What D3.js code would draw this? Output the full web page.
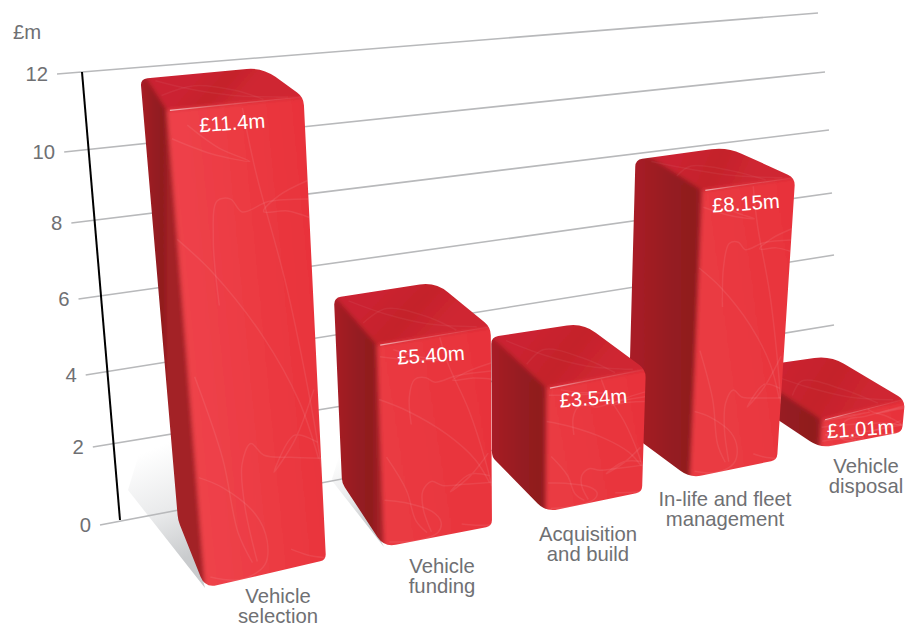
<!DOCTYPE html>
<html>
<head>
<meta charset="utf-8">
<style>
  html, body { margin: 0; background: #fff; }
  svg { display: block; }
  text { font-family: "Liberation Sans", Arial, sans-serif; font-size: 20.3px; }
</style>
<script src="https://cdn.jsdelivr.net/npm/d3@7"></script>
</head>
<body>
<svg id="chart" width="918" height="628"></svg>
<script>
// Vehicle lifecycle spend, £m
const categories = [
  ["Vehicle", "selection"],
  ["Vehicle", "funding"],
  ["Acquisition", "and build"],
  ["In-life and fleet", "management"],
  ["Vehicle", "disposal"]
];
const values = [11.4, 5.40, 3.54, 8.15, 1.01];
const gridValues = [0, 2, 4, 6, 8, 10, 12];
const unitLabel = "£m";

// Perspective set-up: floor corners of every block, pixel rise per £m at each
// corner, and the point far below the page that all uprights converge on.
const vanish = [517, 4500];
const floorCorners = [
  { bl: [178, 520], br: [287, 495], fr: [326, 560], fl: [205, 588] },
  { bl: [342, 483], br: [439, 463], fr: [492, 526], fl: [384, 547] },
  { bl: [492, 457], br: [581, 440], fr: [642, 492], fl: [546, 512] },
  { bl: [628, 432], br: [714, 416], fr: [777, 460], fl: [690, 478] },
  { bl: [745, 398], br: [828, 384], fr: [902, 432], fl: [820, 448] }
];
const risePerUnit = [
  { bl: 38.7, br: 37.5, fr: 40.6, fl: 41.9 },
  { bl: 34.3, br: 33.5, fr: 36.8, fl: 37.4 },
  { bl: 33.9, br: 33.0, fr: 34.5, fl: 35.0 },
  { bl: 33.4, br: 33.0, fr: 34.6, fl: 35.3 },
  { bl: 30.0, br: 28.0, fr: 31.7, fl: 28.0 }
];
const categoryAnchors = [[278, 596], [442, 566], [588, 534], [725, 499], [866, 466]];
const paintOrder = [4, 3, 2, 1, 0];
const shadowReach = [1, 0.68, 0, 0, 0];

// Wall scales: left tick ends, the axis itself and the far ends of the grid lines.
const tickX = d3.scaleLinear().domain([0, 12]).range([100, 57]);
const tickY = d3.scaleLinear().domain(gridValues).range([525, 447, 375, 299, 223, 152, 74]);
const farX = d3.scaleLinear().domain(gridValues).range([836, 834, 834, 832, 829, 825, 818]);
const farY = d3.scaleLinear().domain(gridValues).range([385, 325, 255, 193, 130, 72, 13]);
const axisX = d3.scaleLinear().domain([0, 12]).range([120, 82]);
const axisY = d3.scaleLinear().domain([0, 12]).range([520, 72]);

const svg = d3.select("#chart");
const defs = svg.append("defs");
const formatValue = d3.format(".3r");
const ink = "#6f7073";

defs.append("filter").attr("id", "soft")
  .attr("x", "-10%").attr("y", "-10%").attr("width", "120%").attr("height", "120%")
  .append("feGaussianBlur").attr("stdDeviation", 2);

// Position of a block corner at a given value, following its upright toward the vanishing point.
function corner(base, rise, value) {
  const y = d3.scaleLinear().domain([0, 1]).range([base[1], base[1] - rise])(value);
  const t = (vanish[1] - y) / (vanish[1] - base[1]);
  return [vanish[0] + (base[0] - vanish[0]) * t, y];
}

// Closed outline with softened corners.
function roundedPath(points, radii) {
  const n = points.length;
  const path = d3.path();
  points.forEach((p, i) => {
    const a = points[(i + n - 1) % n], b = points[(i + 1) % n];
    const la = Math.hypot(a[0] - p[0], a[1] - p[1]);
    const lb = Math.hypot(b[0] - p[0], b[1] - p[1]);
    const r = Math.min(radii[i], la * 0.45, lb * 0.45);
    const p1 = [p[0] + (a[0] - p[0]) * r / la, p[1] + (a[1] - p[1]) * r / la];
    const p2 = [p[0] + (b[0] - p[0]) * r / lb, p[1] + (b[1] - p[1]) * r / lb];
    if (i === 0) path.moveTo(p1[0], p1[1]); else path.lineTo(p1[0], p1[1]);
    path.quadraticCurveTo(p[0], p[1], p2[0], p2[1]);
  });
  path.closePath();
  return path.toString();
}

const polygon = pts => "M" + pts.map(p => p.join(",")).join("L") + "Z";

function linearGradient(id, from, to, stops) {
  const g = defs.append("linearGradient").attr("id", id)
    .attr("gradientUnits", "userSpaceOnUse")
    .attr("x1", from[0]).attr("y1", from[1]).attr("x2", to[0]).attr("y2", to[1]);
  stops.forEach(([o, c, a]) => g.append("stop").attr("offset", o).attr("stop-color", c)
    .attr("stop-opacity", a === undefined ? 1 : a));
  return `url(#${id})`;
}

// Pale pen-stroke texture on the block faces, in face coordinates (0..1 across and down).
const scribbles = [
  [[.02, .06], [.3, .1], [.58, .125], [.36, .09], [.14, .035]],
  [[.55, .01], [.62, .15], [.8, .4], [.95, .68], [1, .8]],
  [[.28, .42], [.27, .28], [.32, .2], [.42, .2], [.5, .23], [.7, .215], [1, .22]],
  [[1, .18], [.78, .205], [.66, .235], [.84, .24], [1, .26]],
  [[0, .27], [.25, .35], [.6, .5], [.85, .65], [.98, .78]],
  [[.44, .97], [.37, .85], [.37, .76], [.45, .72], [.55, .75], [.75, .765], [1, .78]],
  [[.97, .63], [.8, .73], [.62, .79], [.8, .72], [.98, .745]],
  [[.02, .77], [.2, .8], [.45, .87], [.53, .93], [.5, .98], [.3, 1], [.05, .98]],
  [[.05, .56], [.22, .74], [.3, .9], [.4, .97]],
  [[.72, .96], [.85, .98], [1, .995]]
];
const topScribbles = [
  [[.05, .55], [.35, .35], [.6, .6], [.72, .95]],
  [[.1, .1], [.3, .45], [.55, .75], [.9, .95]]
];
const scribbleLine = d3.line().curve(d3.curveCatmullRom.alpha(0.5));

function mapFace(q, uv) {
  // Bilinear map onto a four-corner face: q = [top-left, top-right, bottom-right, bottom-left]
  const [u, v] = uv;
  const top = [q[0][0] + (q[1][0] - q[0][0]) * u, q[0][1] + (q[1][1] - q[0][1]) * u];
  const bot = [q[3][0] + (q[2][0] - q[3][0]) * u, q[3][1] + (q[2][1] - q[3][1]) * u];
  return [top[0] + (bot[0] - top[0]) * v, top[1] + (bot[1] - top[1]) * v];
}

// Soft floor shadows behind the nearer blocks
const shadowLayer = svg.append("g");
values.forEach((value, i) => {
  const L = shadowReach[i];
  if (!L) return;
  const { fl, bl } = floorCorners[i];
  const pts = [
    fl,
    [fl[0] - 77 * L, fl[1] - 98 * L],
    [fl[0] - 55 * L, fl[1] - 170 * L],
    [bl[0] + 10, bl[1] - 90 * L],
    [bl[0] + 10, bl[1]]
  ];
  const fill = linearGradient(`shadow${i}`,
    [fl[0] - 18 * L, fl[1] - 30 * L], [fl[0] - 62 * L, fl[1] - 135 * L],
    [[0, "#c9cbcd"], [0.45, "#e9eaeb"], [1, "#ffffff"]]);
  shadowLayer.append("path").attr("d", polygon(pts)).attr("fill", fill);
});

// Grid lines running across the wall, with their tick stubs
svg.append("g").selectAll("line").data(gridValues).join("line")
  .attr("x1", tickX).attr("y1", tickY)
  .attr("x2", farX).attr("y2", farY)
  .attr("stroke", "#b8b9bb").attr("stroke-width", 1.6);

svg.append("line")
  .attr("x1", axisX(12)).attr("y1", axisY(12))
  .attr("x2", axisX(0)).attr("y2", axisY(0))
  .attr("stroke", "#000").attr("stroke-width", 2);

svg.append("g").selectAll("text").data(gridValues).join("text")
  .attr("x", d => tickX(d) - 9).attr("y", tickY)
  .attr("dy", "0.34em").attr("text-anchor", "end").attr("fill", ink)
  .text(d => d);

svg.append("text").attr("x", 13).attr("y", 39).attr("fill", ink).text(unitLabel);

// Blocks, painted from the far end forward
const blockLayer = svg.append("g");
paintOrder.forEach(i => {
  const value = values[i], base = floorCorners[i], rise = risePerUnit[i];
  const T = {};
  ["bl", "br", "fr", "fl"].forEach(k => { T[k] = corner(base[k], rise[k], value); });

  const outline = [T.bl, T.br, T.fr, base.fr, base.fl, base.bl];
  const d = roundedPath(outline, [7, 16, 8, 6, 12, 5]);
  defs.append("clipPath").attr("id", `block${i}`).append("path").attr("d", d);

  const frontFill = linearGradient(`front${i}`, T.fl, T.fr,
    [[0, i === 0 ? "#ee424a" : "#ea3a42"], [0.45, i === 0 ? "#ec3b43" : "#e9363e"], [1, "#e8323a"]]);
  const sideFill = linearGradient(`side${i}`, T.bl, [T.fl[0], T.bl[1]],
    [[0, "#a81f26"], [0.55, "#951d20"], [0.9, "#8f1c1f"], [1, "#a32025"]]);
  const topFill = linearGradient(`top${i}`, [(T.bl[0] + T.br[0]) / 2, (T.bl[1] + T.br[1]) / 2],
    [(T.fl[0] + T.fr[0]) / 2, (T.fl[1] + T.fr[1]) / 2],
    [[0, "#cb2430"], [0.5, "#c4212b"], [1, "#cf2731"]]);

  const block = blockLayer.append("g").attr("clip-path", `url(#block${i})`);
  const faces = block.append("g").attr("filter", "url(#soft)");

  // Faces overshoot the outline a little so the blur never exposes the page at the clip edge.
  const grow = (p, c, k) => [p[0] + (p[0] - c[0]) * k, p[1] + (p[1] - c[1]) * k];
  const centre = [d3.mean(outline, p => p[0]), d3.mean(outline, p => p[1])];
  const g = p => grow(p, centre, 0.12);

  faces.append("path").attr("fill", "#c4212b").attr("d", d);
  faces.append("path").attr("fill", sideFill).attr("d", polygon([g(T.bl), T.fl, base.fl, g(base.fl), g(base.bl)]));
  faces.append("path").attr("fill", topFill).attr("d", polygon([g(T.bl), g(T.br), g(T.fr), T.fr, T.fl]));
  faces.append("path").attr("fill", frontFill).attr("d", polygon([T.fl, T.fr, g(T.fr), g(base.fr), g(base.fl), base.fl]));

  // Pen-stroke texture
  const frontQuad = [T.fl, T.fr, base.fr, base.fl];
  const topQuad = [T.bl, T.br, T.fr, T.fl];
  const strokes = block.append("g").attr("fill", "none").attr("stroke-width", 1.5);
  strokes.selectAll("path.f").data(scribbles).join("path").attr("class", "f")
    .attr("d", s => scribbleLine(s.map(uv => mapFace(frontQuad, uv))))
    .attr("stroke", "#ffffff").attr("stroke-opacity", 0.08);
  strokes.selectAll("path.t").data(topScribbles).join("path").attr("class", "t")
    .attr("d", s => scribbleLine(s.map(uv => mapFace(topQuad, uv))))
    .attr("stroke", "#ffffff").attr("stroke-opacity", 0.05);

  // Highlight along the top front edge
  const glint = linearGradient(`glint${i}`, T.fl, T.fr,
    [[0, "#ffffff", 0.65], [0.35, "#ffffff", 0.22], [1, "#ffffff", 0.04]]);
  block.append("line")
    .attr("x1", T.fl[0] + 3).attr("y1", T.fl[1])
    .attr("x2", T.fr[0] - 3).attr("y2", T.fr[1])
    .attr("stroke", glint).attr("stroke-width", 1.2);

  // Value label sits just under the top edge and follows its tilt
  const cx = (T.fl[0] + T.fr[0]) / 2 - 3, cy = (T.fl[1] + T.fr[1]) / 2 + 19;
  block.append("text")
    .attr("transform", `translate(${cx},${cy}) rotate(-4)`)
    .attr("dy", "0.35em").attr("text-anchor", "middle").attr("fill", "#fff")
    .text(`£${formatValue(value)}m`);
});

// Category names under each block
const labelLayer = svg.append("g").attr("fill", ink).attr("text-anchor", "middle");
categories.forEach((lines, i) => {
  labelLayer.append("g").selectAll("text").data(lines).join("text")
    .attr("x", categoryAnchors[i][0])
    .attr("y", (_, k) => categoryAnchors[i][1] + k * 20.5)
    .attr("dy", "0.33em")
    .text(d => d);
});
</script>
</body>
</html>
